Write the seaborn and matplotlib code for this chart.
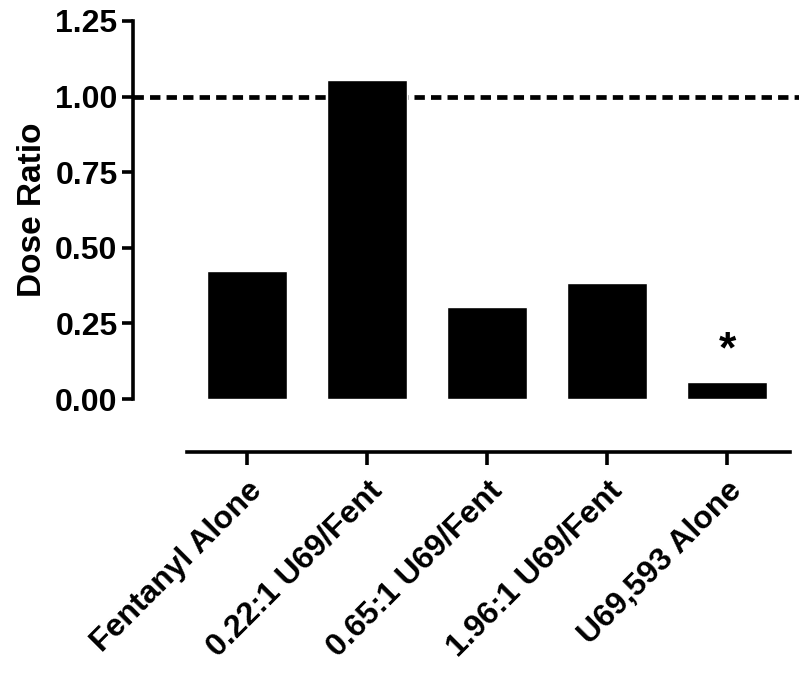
import numpy as np
import pandas as pd
import matplotlib
matplotlib.use("Agg")
import matplotlib.pyplot as plt
import seaborn as sns

# values
groups = ["Fentanyl Alone", "0.22:1 U69/Fent", "0.65:1 U69/Fent",
          "1.96:1 U69/Fent", "U69,593 Alone"]
dose_ratio = [0.423, 1.055, 0.305, 0.385, 0.056]
significant = [False, False, False, False, True]
yticks = [0.00, 0.25, 0.50, 0.75, 1.00, 1.25]

df = pd.DataFrame({"group": groups, "ratio": dose_ratio})

sns.set_style("ticks")
plt.rcParams["font.family"] = ["Liberation Sans", "DejaVu Sans"]
plt.rcParams["font.weight"] = "bold"
for key in ["text.color", "axes.labelcolor", "xtick.color", "ytick.color",
            "axes.edgecolor"]:
    plt.rcParams[key] = "black"

fig = plt.figure(figsize=(8, 6.85), dpi=100)
ax = fig.add_axes([0.166, 0.4175, 0.833, 0.552])

sns.barplot(data=df, x="group", y="ratio", color="black", width=0.667,
            saturation=1, ax=ax)

# spines first: set_position resets the tick label styling
for side in ["top", "right"]:
    ax.spines[side].set_visible(False)
for side in ["left", "bottom"]:
    ax.spines[side].set_linewidth(2.6)
ax.spines["bottom"].set_position(("outward", 38))
ax.spines["bottom"].set_bounds(-0.5, 4.52)

# reference line at 1.0
ax.axhline(1.0, color="black", lw=3.4, linestyle=(0, (2.2, 1.3)), zorder=0)

# significance marker
for i, (v, s) in enumerate(zip(dose_ratio, significant)):
    if s:
        ax.text(i, v + 0.035, "*", ha="center", va="bottom",
                fontsize=32, fontweight="bold")

ax.set_xlim(-0.95, 4.6)
ax.set_ylim(0, 1.25)
ax.set_yticks(yticks)
ax.set_yticklabels([f"{t:.2f}" for t in yticks], fontsize=23, fontweight="bold")
ax.set_xticks(range(len(groups)))
ax.set_xticklabels(groups, rotation=45, ha="right", rotation_mode="anchor",
                   fontsize=23, fontweight="bold")

ax.set_xlabel("")
ax.set_ylabel("Dose Ratio", fontsize=24, fontweight="bold", labelpad=5)

ax.tick_params(axis="both", width=2.6, length=8, color="black", pad=3)
ax.tick_params(axis="x", length=9, pad=8)

fig.savefig("out.png", dpi=100)
